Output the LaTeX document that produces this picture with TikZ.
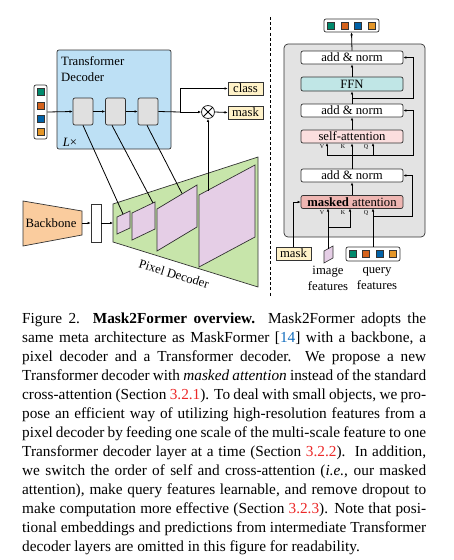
\documentclass[tikz,border=0pt]{standalone}
\usepackage{fontspec}
\setmainfont{Liberation Serif}
\usetikzlibrary{arrows.meta}

\definecolor{decblue}{RGB}{189,224,245}
\definecolor{blockgray}{RGB}{224,224,224}
\definecolor{layergray}{RGB}{227,227,227}
\definecolor{pixgreen}{RGB}{199,229,170}
\definecolor{featpink}{RGB}{229,206,230}
\definecolor{bbone}{RGB}{250,204,158}
\definecolor{tagyellow}{RGB}{255,242,200}
\definecolor{ffncyan}{RGB}{192,230,230}
\definecolor{sapink}{RGB}{251,222,222}
\definecolor{mapink}{RGB}{238,182,178}
\definecolor{sqg}{RGB}{0,138,108}
\definecolor{sqo}{RGB}{212,98,28}
\definecolor{sqb}{RGB}{0,98,168}
\definecolor{sqy}{RGB}{228,150,40}
\definecolor{citeblue}{RGB}{20,110,190}
\definecolor{refred}{RGB}{235,40,40}

\begin{document}
\begin{tikzpicture}
    [
        x=1pt, y=-1pt,
        every node/.style={font=\fontsize{12.7}{16}\selectfont, inner sep=0pt},
        rbox/.style={draw=black!80, line width=0.7pt, rounded corners=2pt},
        block/.style={rbox, fill=blockgray, minimum width=20, minimum height=27},
        sublayer/.style={rbox, fill=white, minimum width=102, minimum height=13},
        outtag/.style={draw=black!80, line width=0.7pt, fill=tagyellow, minimum width=35, minimum height=13},
        sq/.style={draw=black!80, line width=0.5pt, minimum size=7},
        vkq/.style={font=\fontsize{6}{6}\selectfont},
        arr/.style={-{Latex[length=3pt,width=2.6pt]}, line width=0.8pt},
        link/.style={line width=0.8pt}
    ]
    \useasboundingbox (0,0) rectangle (454,560);

    % transformer decoder (left)
    \node[rbox, fill=decblue, minimum width=114, minimum height=99] (tdec) at (114,99.5) {};
    \node[anchor=base west, align=left] (tdectitle) at (61,81.5) {Transformer\\Decoder};
    \node (lrep) at (70,142) {\textit{L}×};
    \node[rbox, fill=white, minimum width=13, minimum height=54] (qin) at (40.5,112) {};
    \foreach \c [count=\i] in {sqg,sqo,sqb,sqy}
        \node[sq, fill=\c] (qin\i) at (40.5,{78.7+13.3*\i}) {};
    \node[block] (blk1) at (83,111.5) {};
    \node[block] (blk2) at (115.5,111.5) {};
    \node[block] (blk3) at (148,111.5) {};
    \node[outtag] (cls) at (245.5,88.5) {class};
    \node[outtag] (msk) at (245.5,112.5) {mask};
    \node[draw=black!80, line width=0.8pt, fill=white, circle, minimum size=13] (mult) at (208,112) {};
    \draw[line width=0.8pt] (mult.north west) -- (mult.south east) (mult.north east) -- (mult.south west);
    \coordinate (split) at (180,112);

    \draw[arr] (qin.east) -- (blk1.west);
    \draw[arr] (blk1.east) -- (blk2.west);
    \draw[arr] (blk2.east) -- (blk3.west);
    \draw[link] (blk3.east) -- (split);
    \draw[arr] (split) |- (cls.west);
    \draw[arr] (split) -- (mult.west);
    \draw[arr] (mult.east) -- (msk.west);

    % backbone and pixel decoder
    \draw[draw=black!80, line width=0.7pt, fill=bbone] (23,201) -- (82,211) -- (82,235) -- (23,246) -- cycle;
    \node (bb) at (51,223.5) {Backbone};
    \coordinate (bbout) at (82,223);
    \node[draw=black!80, line width=0.7pt, fill=white, minimum width=10, minimum height=38] (feat) at (96,223) {};
    \draw[draw=black!80, line width=0.7pt, fill=pixgreen] (113,204) -- (258,157) -- (258,287) -- (113,242) -- cycle;
    \coordinate (pdin) at (113,223);
    \node[rotate=-17] (pdlabel) at (174,274) {Pixel Decoder};
    \draw[arr] (bbout) -- (feat.west);
    \draw[arr] (feat.east) -- (pdin);

    \foreach \xa/\ya/\xb/\yb/\h [count=\i] in {117/217/130/211/17, 132/213/155/202/27, 157/209/197/185/42, 199/195/255/165/72}
    {
        \draw[draw=black!80, line width=0.7pt, fill=featpink]
            (\xa,\ya) -- (\xb,\yb) -- (\xb,\yb+\h) -- (\xa,\ya+\h) -- cycle;
    }
    \coordinate (ft1) at (123,214);
    \coordinate (ft2) at (153,203);
    \coordinate (ft3) at (182,193.5);
    \coordinate (ft4) at (208,190.5);
    \draw[link] (ft1) -- (blk1.south);
    \draw[link] (ft2) -- ([xshift=-3.5]blk2.south);
    \draw[link] (ft3) -- ([xshift=-1]blk3.south);
    \draw[arr] (ft4) -- (mult.south);

    % separator
    \draw[line width=0.8pt, dash pattern=on 3pt off 2.2pt] (270,17) -- (270,296);

    % transformer decoder layer (right)
    \node[rbox, fill=layergray, rounded corners=4pt, minimum width=141, minimum height=193] (layer) at (354.5,140.5) {};
    \node[rbox, fill=white, minimum width=55, minimum height=13] (qout) at (351.5,25.5) {};
    \foreach \c/\x in {sqg/331,sqo/344.5,sqb/358,sqy/371.5}
        \node[sq, fill=\c] at (\x,25.5) {};
    \node[sublayer] (an1) at (352,57.5) {add \& norm};
    \node[sublayer, fill=ffncyan, minimum height=14] (ffn) at (352,84) {FFN};
    \node[sublayer] (an2) at (352,110.5) {add \& norm};
    \node[sublayer, fill=sapink] (sa) at (352,136.5) {self-attention};
    \node[sublayer] (an3) at (352,175.5) {add \& norm};
    \node[sublayer, fill=mapink] (ma) at (352,202) {\textbf{masked} attention};

    \node[vkq] at (322,147) {V};
    \node[vkq] at (343,147) {K};
    \node[vkq] at (366,147) {Q};
    \node[vkq] at (322,212.5) {V};
    \node[vkq] at (343,212.5) {K};
    \node[vkq] at (366,212.5) {Q};

    \node[outtag, minimum width=35] (mskin) at (293.5,253.5) {mask};
    \draw[draw=black!80, line width=0.6pt, fill=featpink] (324,251) -- (333,246) -- (333,258) -- (324,263) -- cycle;
    \coordinate (imf) at (328,249);
    \node[rbox, fill=white, minimum width=54, minimum height=14] (qf) at (373,254) {};
    \foreach \c/\x in {sqg/353,sqo/366,sqb/379.5,sqy/393}
        \node[sq, fill=\c] at (\x,254) {};
    \node[align=center] (imflabel) at (328,278.5) {image\\features};
    \node[align=center] (qflabel) at (377,278.5) {query\\features};

    \draw[arr] (an1.north) -- (qout.south);
    \draw[arr] (ffn.north) -- (an1.south);
    \draw[arr] (an2.north) -- (ffn.south);
    \draw[arr] (352,98) -- (413,98) |- (an1.east);
    \draw[arr] (sa.north) -- (an2.south);
    \draw[arr] (an3.north) -- (sa.south);
    \draw[arr] (327,155) -- (327,143);
    \draw[arr] (373,155) -- (373,143);
    \draw[arr] (327,155) -- (413,155) |- (an2.east);
    \draw[arr] (ma.north) -- (an3.south);
    \draw[arr] (qf.north) -- (373,208.5);
    \draw[arr] (373,216) -- (412,216) |- (an3.east);
    \draw[arr] (imf) -- (328,208.5);
    \draw[arr] (328,227) -- (350,227) -- (350,208.5);
    \draw[arr] (mskin.north) |- (ma.west);

    % caption
    \node[anchor=base west, text width=404, align=justify, font=\fontsize{15.3}{19}\selectfont] (caption) at (22,323)
    {Figure 2.\ \ \textbf{Mask2Former overview.}\ \ Mask2Former adopts the\linebreak
    same meta architecture as MaskFormer [\textcolor{citeblue}{14}] with a backbone, a\linebreak
    pixel decoder and a Transformer decoder.\ \ We propose a new\linebreak
    Transformer decoder with \textit{masked attention} instead of the standard\linebreak
    cross-attention (Section \textcolor{refred}{3.2.1}). To deal with small objects, we pro-\linebreak
    pose an efficient way of utilizing high-resolution features from a\linebreak
    pixel decoder by feeding one scale of the multi-scale feature to one\linebreak
    Transformer decoder layer at a time (Section \textcolor{refred}{3.2.2}).\ \ In addition,\linebreak
    we switch the order of self and cross-attention (\textit{i.e.}, our masked\linebreak
    attention), make query features learnable, and remove dropout to\linebreak
    make computation more effective (Section \textcolor{refred}{3.2.3}). Note that posi-\linebreak
    tional embeddings and predictions from intermediate Transformer\linebreak
    decoder layers are omitted in this figure for readability.\par};
\end{tikzpicture}
\end{document}
